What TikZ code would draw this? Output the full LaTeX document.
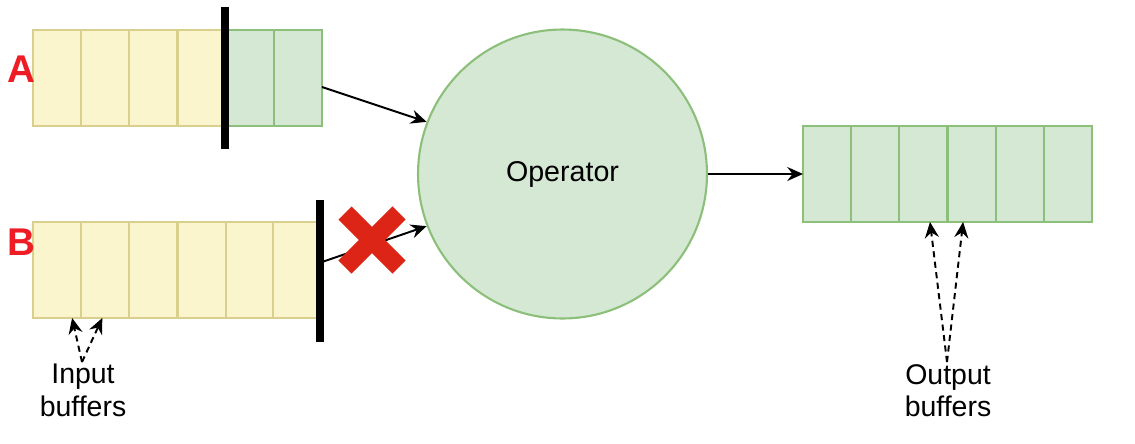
\documentclass[tikz,border=0pt]{standalone}
\usepackage{fontspec}
\setmainfont{Liberation Sans}
\usetikzlibrary{arrows.meta,calc}
\definecolor{yfill}{HTML}{FBF5CE}
\definecolor{ydraw}{HTML}{D9D08E}
\definecolor{gfill}{HTML}{D5E8D4}
\definecolor{gdraw}{HTML}{8CC07A}
\definecolor{xred}{HTML}{DC2417}
\definecolor{lblred}{HTML}{EE1C25}
\tikzset{
  cellY/.style={draw=ydraw, fill=yfill, line width=1.2pt, inner sep=0pt, outer sep=0pt,
    minimum width=0.9634cm, minimum height=1.92cm},
  cellG/.style={draw=gdraw, fill=gfill, line width=1.2pt, inner sep=0pt, outer sep=0pt,
    minimum width=0.9634cm, minimum height=1.92cm},
  opnode/.style={circle, draw=gdraw, fill=gfill, line width=1.2pt, minimum size=5.78cm,
    inner sep=0pt, font=\fontsize{16.3}{19}\selectfont},
  barline/.style={line width=4.6pt, black},
  arr/.style={-{Stealth[length=9pt,width=8pt,inset=3pt]}, line width=1.1pt, black},
  darr/.style={-{Stealth[length=9pt,width=8pt,inset=3pt]}, line width=1.1pt, black, dash pattern=on 3.5pt off 2.5pt},
  lbl/.style={font=\fontsize{16.2}{18.4}\selectfont, align=center, inner sep=0pt},
  biglbl/.style={font=\fontsize{22}{24}\selectfont\bfseries, text=lblred, inner sep=0pt},
  xarm/.style={line width=10.5pt, xred, line cap=butt},
}
\begin{document}
\begin{tikzpicture}[x=0.02cm, y=-0.02cm]
\path[fill=white, use as bounding box] (0,0) rectangle (1135,443);

% Buffer A
\foreach \i/\cx in {1/57.1, 2/105.3, 3/153.5, 4/201.6} {
  \node[cellY] (a\i) at (\cx,78) {};
}
\foreach \i/\cx in {5/249.8, 6/297.9} {
  \node[cellG] (a\i) at (\cx,78) {};
}
\coordinate (barAt) at (225,7);
\coordinate (barAb) at (225,149);
\draw[barline] (barAt) -- (barAb);

% Buffer B
\foreach \i/\cx in {1/57.1, 2/105.3, 3/153.5, 4/201.6, 5/249.8} {
  \node[cellY] (b\i) at (\cx,270) {};
}
\node[cellY, minimum width=0.88cm] (b6) at (295,270) {};
\coordinate (barBt) at (320,200);
\coordinate (barBb) at (320,342);
\coordinate (barBout) at (322,262);

% Operator
\node[opnode] (op) at (562.5,174) {Operator};

% Output buffer
\foreach \i/\cx in {1/827.1, 2/875.3, 3/923.5, 4/971.6, 5/1019.8, 6/1068.0} {
  \node[cellG] (o\i) at (\cx,174) {};
}

% Connectors
\draw[arr] ($(a6.east)+(0,9)$) -- (op.159);
\draw[arr] (barBout) -- (op.201);
\draw[arr] (op.east) -- (o1.west);
\draw[barline] (barBt) -- (barBb);

% Red X
\coordinate (xc) at (372,240);
\draw[xarm] ($(xc)+(-27,-27)$) -- ($(xc)+(27,27)$);
\draw[xarm] ($(xc)+(27,-27)$) -- ($(xc)+(-27,27)$);

% Labels A, B
\node[biglbl] (labA) at (21,69) {A};
\node[biglbl] (labB) at (21,242) {B};

% Input buffers
\node[lbl, anchor=north] (inlbl) at (83,364) {Input\\buffers};
\coordinate (inSrc) at (82,362);
\draw[darr] (inSrc) -- ($(b1.south)+(15,0)$);
\draw[darr] (inSrc) -- ($(b2.south)+(-3,0)$);

% Output buffers
\node[lbl, anchor=north] (outlbl) at (948,364) {Output\\buffers};
\coordinate (outSrc) at (947,362);
\draw[darr] (outSrc) -- ($(o3.south)+(6.5,0)$);
\draw[darr] (outSrc) -- ($(o4.south)+(-8.5,0)$);
\end{tikzpicture}
\end{document}
